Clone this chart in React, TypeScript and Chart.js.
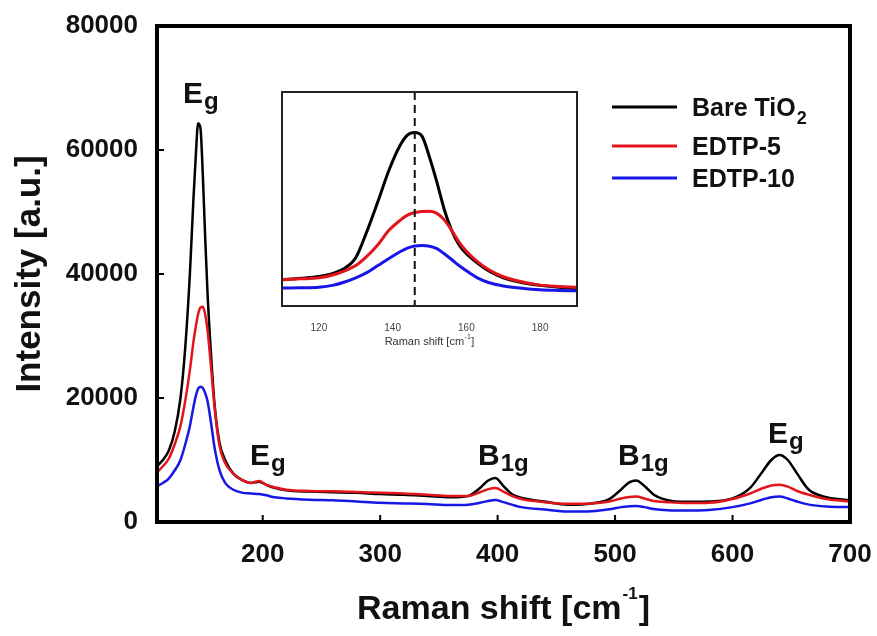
import React, { useEffect, useRef } from 'react';
import { Chart, registerables } from 'chart.js';

Chart.register(...registerables);

const FAMILY = '"Liberation Sans", Arial, Helvetica, sans-serif';

// ---- main spectrum ----
const ramanShift = [110, 115, 120, 125, 130, 134, 138, 141, 143, 145, 147, 149, 151, 153, 156, 159, 163, 168, 175, 183, 190, 197, 203, 210, 220, 240, 260, 280, 300, 320, 340, 360, 375, 385, 392, 398, 405, 412, 420, 440, 460, 480, 495, 505, 512, 518, 525, 533, 545, 560, 580, 600, 615, 625, 633, 640, 647, 655, 665, 680, 700];
const bareTiO2 = [9000, 10000, 11500, 14500, 20000, 28000, 40000, 52000, 59000, 64300, 63500, 56000, 46000, 37000, 27000, 19000, 13000, 10000, 7800, 6700, 6300, 6500, 6000, 5500, 5100, 4900, 4800, 4700, 4500, 4400, 4200, 4000, 4200, 5500, 6700, 7100, 5800, 4500, 3900, 3300, 2800, 3000, 3700, 5200, 6400, 6700, 5800, 4400, 3500, 3250, 3300, 3800, 5500, 8000, 10000, 10800, 10000, 7800, 5200, 4000, 3500];
const edtp5 = [8000, 9000, 10200, 12500, 15500, 19500, 24500, 29000, 31500, 33500, 34600, 34700, 33500, 31000, 25000, 18500, 12500, 9500, 7800, 6700, 6300, 6600, 6000, 5600, 5200, 5000, 4950, 4850, 4700, 4600, 4400, 4200, 4200, 4800, 5300, 5500, 4900, 4200, 3700, 3200, 2950, 3000, 3300, 3800, 4050, 4100, 3800, 3400, 3200, 3050, 3100, 3700, 4600, 5400, 5900, 6000, 5700, 5000, 4400, 3700, 3300];
const edtp10 = [5800, 6300, 7000, 8300, 10000, 12500, 15500, 18500, 20300, 21500, 21800, 21600, 20800, 19500, 16000, 12000, 8500, 6300, 5200, 4700, 4600, 4500, 4300, 4000, 3800, 3600, 3500, 3300, 3100, 3000, 2900, 2750, 2800, 3100, 3400, 3550, 3200, 2800, 2400, 2000, 1700, 1750, 2050, 2400, 2550, 2600, 2400, 2100, 1900, 1850, 1950, 2400, 3000, 3600, 4000, 4100, 3800, 3300, 2800, 2500, 2400];

// ---- inset (zoom on the main Eg band) ----
const insetShift = [110, 115, 120, 124, 127, 130, 133, 136, 139, 142, 144, 146, 148, 150, 152, 154, 156, 158, 160, 163, 166, 170, 175, 180, 185, 190];
const insetBare = [8050, 8600, 9300, 10600, 12500, 16500, 26500, 38000, 50000, 59500, 63500, 64500, 63000, 55000, 45500, 35000, 27000, 21500, 18000, 14500, 11500, 8800, 7000, 5900, 5200, 4600];
const insetEdtp5 = [8050, 8400, 8800, 10000, 11500, 13500, 17000, 21500, 27000, 30800, 32800, 33800, 34200, 34300, 33500, 31000, 27000, 22500, 19000, 15000, 12000, 9200, 7300, 6000, 5500, 5200];
const insetEdtp10 = [4900, 5000, 5200, 6000, 7200, 8800, 10800, 13500, 16200, 18800, 20200, 21000, 21200, 20900, 20000, 18000, 15800, 13500, 11500, 8800, 7000, 5700, 4800, 4200, 3950, 3800];

const xTicks = [200, 300, 400, 500, 600, 700];
const yTicks = [0, 20000, 40000, 60000, 80000];
const insetTicks = [120, 140, 160, 180];
const insetMarker = 146;

const seriesNames = ['Bare TiO', 'EDTP-5', 'EDTP-10'];
const seriesSubs = ['2', '', ''];
const seriesColors = ['#000000', '#e2141c', '#1616e6'];

const peakLabels = [
  { x: 132.1, y: 67590, main: 'E', sub: 'g' },
  { x: 189.2, y: 9190, main: 'E', sub: 'g' },
  { x: 383.3, y: 9190, main: 'B', sub: '1g' },
  { x: 502.5, y: 9190, main: 'B', sub: '1g' },
  { x: 630.2, y: 12740, main: 'E', sub: 'g' },
];

function drawSub(ctx: CanvasRenderingContext2D, x: number, y: number, main: string, sub: string, size: number, subSize: number, dy: number, weight = 'bold') {
  ctx.font = `${weight} ${size}px ${FAMILY}`;
  ctx.fillText(main, x, y);
  const w = ctx.measureText(main).width;
  if (sub) {
    ctx.font = `${weight} ${subSize}px ${FAMILY}`;
    ctx.fillText(sub, x + w + 1, y + dy);
  }
}

function pts(xs: number[], ys: number[]) {
  return xs.map((x, i) => ({ x, y: ys[i] }));
}

const mainDecor = {
  id: 'mainDecor',
  afterDatasetsDraw(chart: any) {
    const { ctx, chartArea, scales } = chart;
    const { left, right, top, bottom } = chartArea;
    ctx.save();
    ctx.strokeStyle = '#000';
    ctx.fillStyle = '#111';
    // inward ticks
    ctx.lineWidth = 2;
    ctx.beginPath();
    xTicks.forEach((v) => {
      const px = scales.x.getPixelForValue(v);
      ctx.moveTo(px, bottom);
      ctx.lineTo(px, bottom - 7);
    });
    yTicks.forEach((v) => {
      const py = scales.y.getPixelForValue(v);
      ctx.moveTo(left, py);
      ctx.lineTo(left + 7, py);
    });
    ctx.stroke();
    // frame
    ctx.lineWidth = 4;
    ctx.strokeRect(left, top, right - left, bottom - top);

    // peak labels
    ctx.textAlign = 'left';
    ctx.textBaseline = 'alphabetic';
    peakLabels.forEach((p) => {
      const px = scales.x.getPixelForValue(p.x);
      const py = scales.y.getPixelForValue(p.y);
      drawSub(ctx, px, py, p.main, p.sub, 30, 24, 6);
    });

    // legend
    const lx0 = left + 455;
    const lx1 = left + 520;
    const tx = left + 535;
    const ly = [top + 81, top + 120, top + 152];
    seriesNames.forEach((name, i) => {
      ctx.strokeStyle = seriesColors[i];
      ctx.lineWidth = 3;
      ctx.beginPath();
      ctx.moveTo(lx0, ly[i]);
      ctx.lineTo(lx1, ly[i]);
      ctx.stroke();
      ctx.fillStyle = '#111';
      drawSub(ctx, tx, ly[i] + 9, name, seriesSubs[i], 25, 18, 8);
    });

    // x title with superscript
    ctx.fillStyle = '#111';
    const cx = (left + right) / 2;
    const baseY = 619;
    ctx.font = `bold 34px ${FAMILY}`;
    const a = 'Raman shift [cm';
    const b = ']';
    const wa = ctx.measureText(a).width;
    const wb = ctx.measureText(b).width;
    ctx.font = `bold 17px ${FAMILY}`;
    const sup = '-1';
    const ws = ctx.measureText(sup).width;
    const total = wa + ws + wb + 2;
    let x0 = cx - total / 2;
    ctx.font = `bold 34px ${FAMILY}`;
    ctx.fillText(a, x0, baseY);
    ctx.font = `bold 17px ${FAMILY}`;
    ctx.fillText(sup, x0 + wa + 1, baseY - 20);
    ctx.font = `bold 34px ${FAMILY}`;
    ctx.fillText(b, x0 + wa + ws + 2, baseY);
    ctx.restore();
  },
};

const insetDecor = {
  id: 'insetDecor',
  beforeDatasetsDraw(chart: any) {
    const { ctx, chartArea } = chart;
    ctx.save();
    ctx.fillStyle = '#ffffff';
    ctx.fillRect(chartArea.left, chartArea.top, chartArea.right - chartArea.left, chartArea.bottom - chartArea.top);
    ctx.restore();
  },
  afterDatasetsDraw(chart: any) {
    const { ctx, chartArea, scales } = chart;
    const { left, right, top, bottom } = chartArea;
    ctx.save();
    const mx = scales.x.getPixelForValue(insetMarker);
    ctx.strokeStyle = '#111';
    ctx.lineWidth = 2;
    ctx.setLineDash([8, 5]);
    ctx.beginPath();
    ctx.moveTo(mx, top);
    ctx.lineTo(mx, bottom);
    ctx.stroke();
    ctx.setLineDash([]);
    ctx.strokeStyle = '#222';
    ctx.lineWidth = 2;
    ctx.strokeRect(left, top, right - left, bottom - top);
    // title
    ctx.fillStyle = '#333';
    ctx.textBaseline = 'alphabetic';
    ctx.textAlign = 'left';
    const cx = (left + right) / 2;
    const baseY = bottom + 39;
    ctx.font = `11px ${FAMILY}`;
    const a = 'Raman shift [cm';
    const wa = ctx.measureText(a).width;
    const wb = ctx.measureText(']').width;
    ctx.font = `7px ${FAMILY}`;
    const ws = ctx.measureText('-1').width;
    const x0 = cx - (wa + ws + wb + 1) / 2;
    ctx.font = `11px ${FAMILY}`;
    ctx.fillText(a, x0, baseY);
    ctx.font = `7px ${FAMILY}`;
    ctx.fillText('-1', x0 + wa + 0.5, baseY - 6);
    ctx.font = `11px ${FAMILY}`;
    ctx.fillText(']', x0 + wa + ws + 1, baseY);
    ctx.restore();
  },
};

export default function App() {
  const mainRef = useRef<HTMLCanvasElement>(null);
  const insetRef = useRef<HTMLCanvasElement>(null);

  useEffect(() => {
    const tickFont = { family: FAMILY, size: 26, weight: 'bold' as const };
    const mainChart = new Chart(mainRef.current!, {
      type: 'line',
      data: {
        datasets: [
          { label: 'Bare TiO2', data: pts(ramanShift, bareTiO2), borderColor: seriesColors[0], borderWidth: 2.5, pointRadius: 0, cubicInterpolationMode: 'monotone', order: 3 },
          { label: 'EDTP-5', data: pts(ramanShift, edtp5), borderColor: seriesColors[1], borderWidth: 2.5, pointRadius: 0, cubicInterpolationMode: 'monotone', order: 2 },
          { label: 'EDTP-10', data: pts(ramanShift, edtp10), borderColor: seriesColors[2], borderWidth: 2.5, pointRadius: 0, cubicInterpolationMode: 'monotone', order: 1 },
        ],
      },
      options: {
        animation: false,
        responsive: false,
        devicePixelRatio: 1,
        layout: { padding: { left: 9, top: 26, right: 27, bottom: 0 } },
        plugins: { legend: { display: false }, tooltip: { enabled: false } },
        scales: {
          x: {
            type: 'linear',
            min: 110,
            max: 700,
            grid: { display: false, drawTicks: false },
            border: { display: false },
            afterBuildTicks: (s: any) => { s.ticks = xTicks.map((v) => ({ value: v })); },
            afterFit: (s: any) => { s.height = 114; s.paddingLeft = 0; s.paddingRight = 0; },
            ticks: { padding: 17, font: tickFont, color: '#111', maxRotation: 0, autoSkip: false, callback: (v: any) => String(v) },
          },
          y: {
            type: 'linear',
            min: 0,
            max: 80000,
            grid: { display: false, drawTicks: false },
            border: { display: false },
            afterBuildTicks: (s: any) => { s.ticks = yTicks.map((v) => ({ value: v })); },
            afterFit: (s: any) => { s.width = 148; s.paddingTop = 0; s.paddingBottom = 0; },
            ticks: { padding: 19, font: tickFont, color: '#111', callback: (v: any) => String(v) },
            title: { display: true, text: 'Intensity [a.u.]', font: { family: FAMILY, size: 35, weight: 'bold' }, color: '#111', padding: 0 },
          },
        },
      },
      plugins: [mainDecor],
    } as any);

    const insetChart = new Chart(insetRef.current!, {
      type: 'line',
      data: {
        datasets: [
          { label: 'Bare TiO2', data: pts(insetShift, insetBare), borderColor: seriesColors[0], borderWidth: 3, pointRadius: 0, cubicInterpolationMode: 'monotone', order: 3 },
          { label: 'EDTP-5', data: pts(insetShift, insetEdtp5), borderColor: seriesColors[1], borderWidth: 3, pointRadius: 0, cubicInterpolationMode: 'monotone', order: 2 },
          { label: 'EDTP-10', data: pts(insetShift, insetEdtp10), borderColor: seriesColors[2], borderWidth: 3, pointRadius: 0, cubicInterpolationMode: 'monotone', order: 1 },
        ],
      },
      options: {
        animation: false,
        responsive: false,
        devicePixelRatio: 1,
        layout: { padding: { left: 12, top: 7, right: 13, bottom: 0 } },
        plugins: { legend: { display: false }, tooltip: { enabled: false } },
        scales: {
          x: {
            type: 'linear',
            min: 110,
            max: 190,
            grid: { display: false, drawTicks: false },
            border: { display: false },
            afterBuildTicks: (s: any) => { s.ticks = insetTicks.map((v) => ({ value: v })); },
            afterFit: (s: any) => { s.height = 49; s.paddingLeft = 0; s.paddingRight = 0; },
            ticks: { padding: 16, font: { family: FAMILY, size: 10 }, color: '#444', maxRotation: 0, autoSkip: false, callback: (v: any) => String(v) },
          },
          y: { type: 'linear', display: false, min: -2000, max: 80000 },
        },
      },
      plugins: [insetDecor],
    } as any);

    return () => {
      mainChart.destroy();
      insetChart.destroy();
    };
  }, []);

  return (
    <div style={{ position: 'fixed', left: 0, top: 0, width: 877, height: 636, background: '#fff' }}>
      <canvas ref={mainRef} width={877} height={636} style={{ position: 'absolute', left: 0, top: 0 }} />
      <canvas ref={insetRef} width={320} height={270} style={{ position: 'absolute', left: 270, top: 85 }} />
    </div>
  );
}
